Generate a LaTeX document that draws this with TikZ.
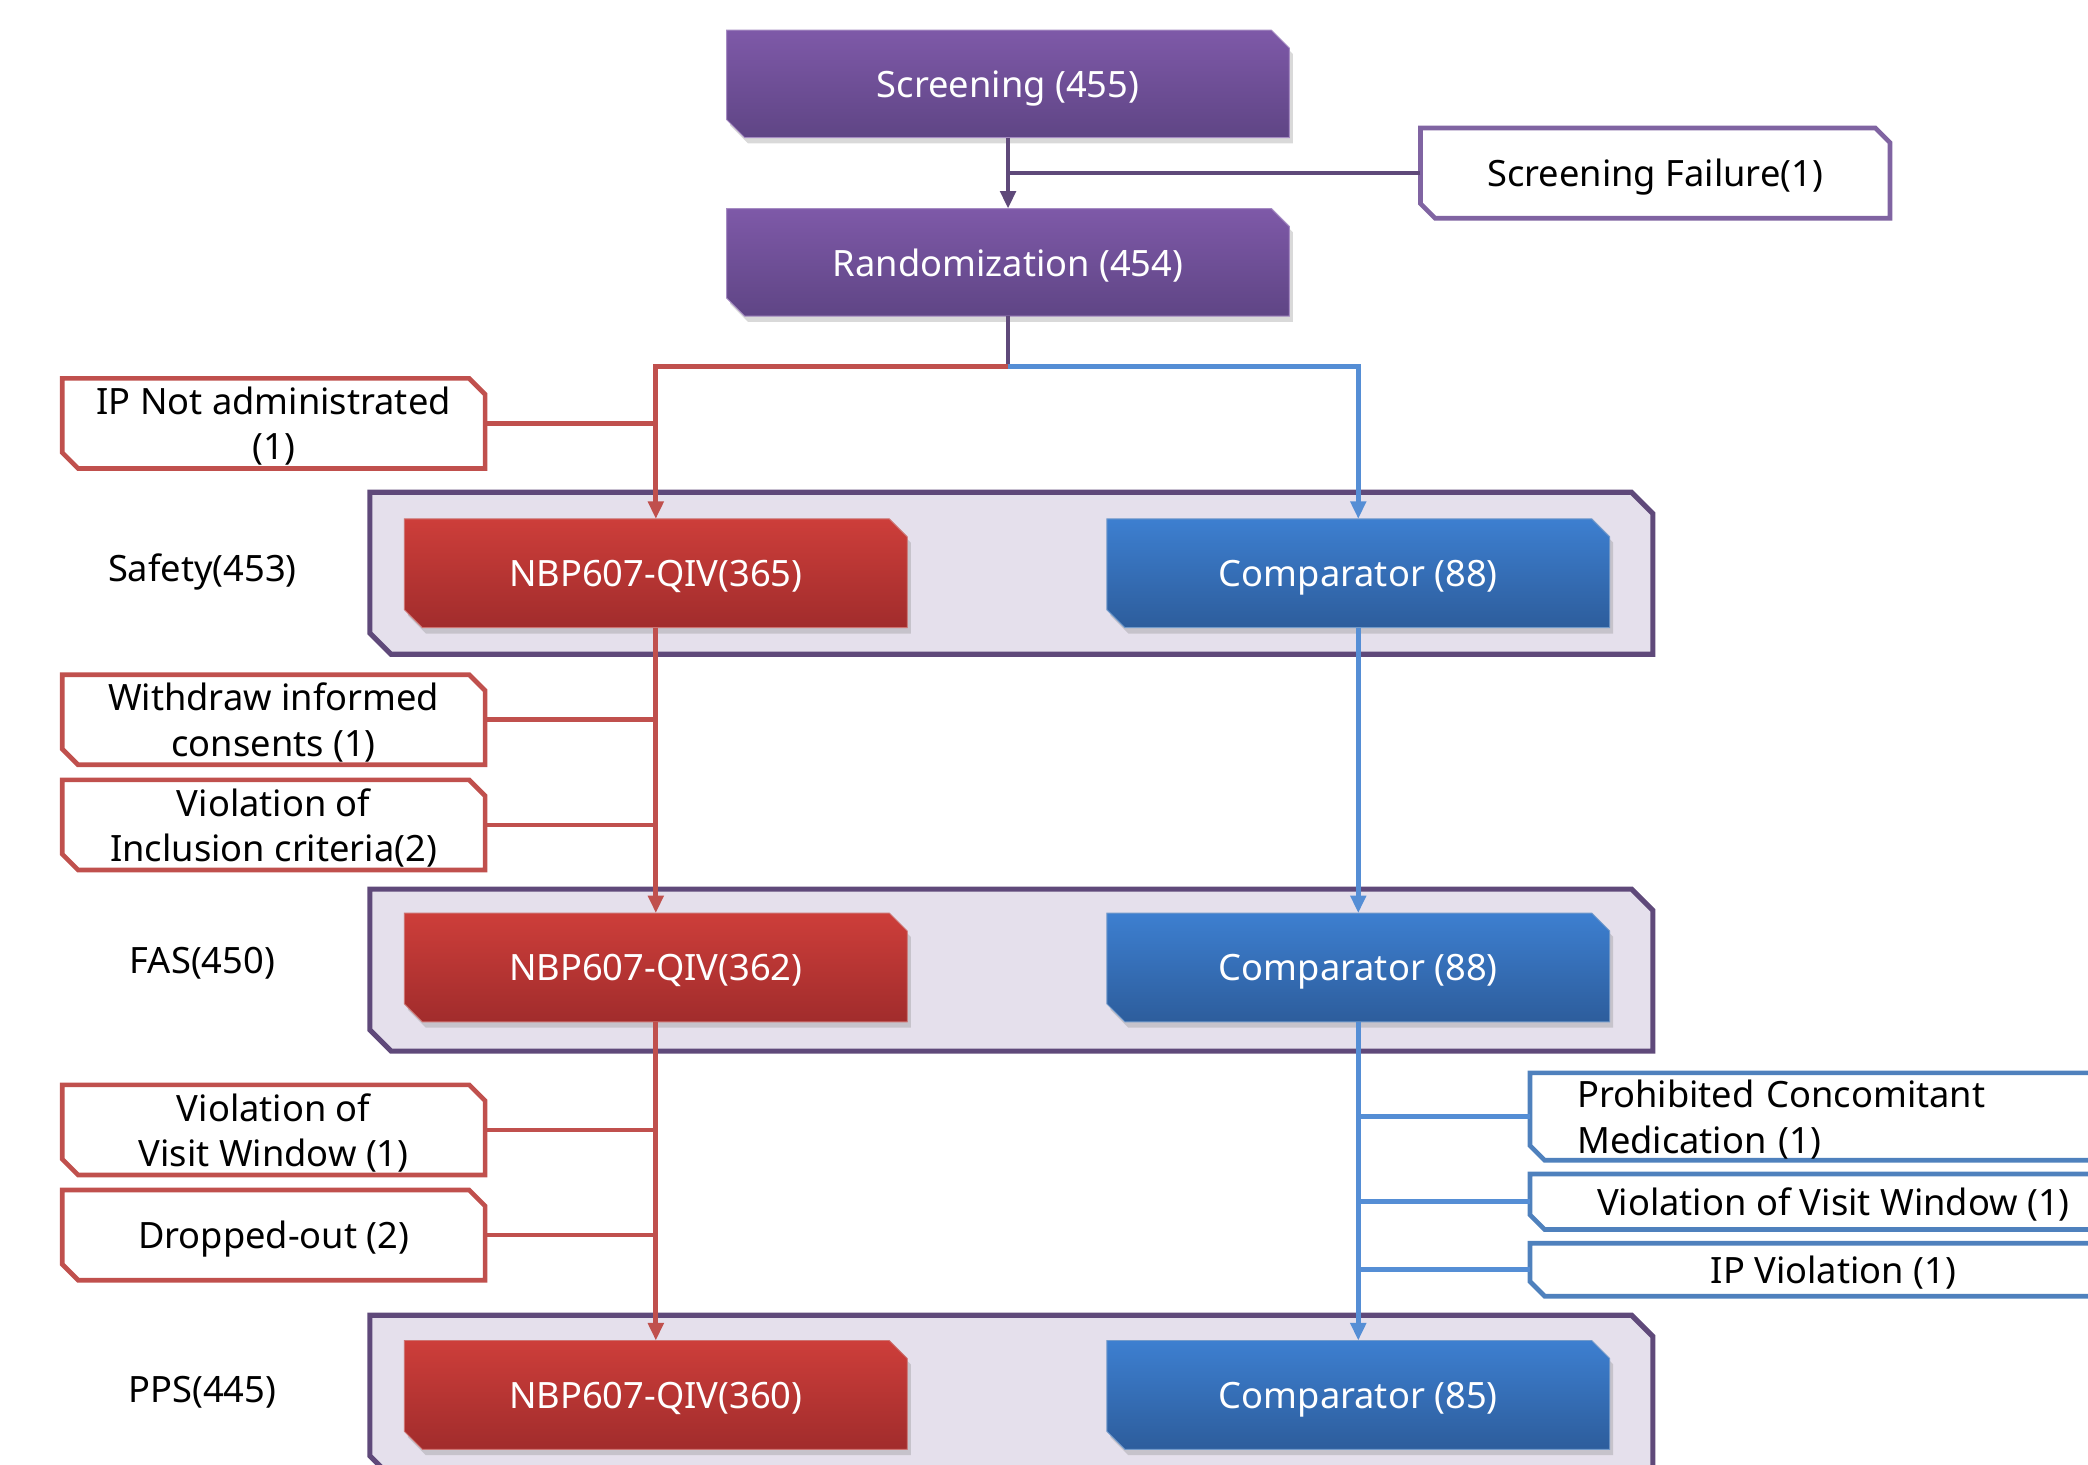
\documentclass[tikz,border=0pt]{standalone}
\usepackage{fontspec}
\setmainfont{Noto Sans}
\usetikzlibrary{shadows,arrows.meta}
\pgfdeclarelayer{bg}
\pgfsetlayers{bg,main}
\definecolor{purpleTop}{HTML}{7E59A8}
\definecolor{purpleBot}{HTML}{5F4585}
\definecolor{purpleLine}{HTML}{8064A2}
\definecolor{panelFill}{HTML}{E5E0EC}
\definecolor{panelLine}{HTML}{5F497A}
\definecolor{redTop}{HTML}{CD3E3A}
\definecolor{redBot}{HTML}{A12C2C}
\definecolor{redLine}{HTML}{C0504D}
\definecolor{blueTop}{HTML}{3D7FD0}
\definecolor{blueBot}{HTML}{2D5D9C}
\definecolor{blueLine}{HTML}{4F81BD}
\definecolor{blueLink}{HTML}{558ED5}
% box outline with two snipped corners
\newcommand\snipped[3]{\path[#3] (#1.north west) -- ([xshift=-#2]#1.north east)
 -- ([yshift=-#2]#1.north east) -- (#1.south east) -- ([xshift=#2]#1.south west)
 -- ([yshift=#2]#1.south west) -- cycle;}

\begin{document}
\begin{tikzpicture}[x=0.02cm,y=-0.02cm,
font=\fontsize{15.5}{19.4}\selectfont,
>={Triangle[length=7.5pt,width=6.5pt]},
box/.style={rectangle,inner sep=0pt,text depth=0pt},
shade/.style={drop shadow={shadow xshift=1.5pt,shadow yshift=-2.5pt,opacity=0.3}},
stage/.style={box,minimum width=8.44cm,minimum height=1.6cm,text=white},
arm/.style={box,minimum width=7.54cm,minimum height=1.62cm,text=white},
panel/.style={box,minimum width=19.26cm,minimum height=2.42cm},
reason/.style={box,minimum width=6.34cm,minimum height=1.34cm,align=center},
stageBox/.style={top color=purpleTop,bottom color=purpleBot,draw=purpleTop!70!white,line width=0.4pt,shade},
redBox/.style={top color=redTop,bottom color=redBot,draw=redLine!80!white,line width=0.4pt,shade},
blueBox/.style={top color=blueTop,bottom color=blueBot,draw=blueLine!80!white,line width=0.4pt,shade},
panelBox/.style={fill=panelFill,draw=panelLine,line width=2.2pt},
reasonBox/.style={fill=white,draw=#1,line width=2pt}]
\useasboundingbox (0,0) rectangle (1568,1100);
\clip (0,0) rectangle (1568,1100);

% analysis sets
\node[panel] (safe) at (759.5,430.5) {};
\node[panel] (fas) at (759.5,728.5) {};
\node[panel] (pps) at (759.5,1048.5) {};
\node[box] at (152,426) {Safety(453)};
\node[box] at (152,721) {FAS(450)};
\node[box] at (152,1043) {PPS(445)};

% enrolment
\node[stage] (scr) at (757,63) {Screening (455)};
\node[stage] (rand) at (757,197) {Randomization (454)};
\node[reason,minimum width=7.04cm] (fail) at (1243,130) {Screening Failure(1)};

% arms
\node[arm] (n365) at (492.5,430.5) {NBP607-QIV(365)};
\node[arm] (c88a) at (1020,430.5) {Comparator (88)};
\node[arm] (n362) at (492.5,726.5) {NBP607-QIV(362)};
\node[arm] (c88b) at (1020,726.5) {Comparator (88)};
\node[arm] (n360) at (492.5,1047.5) {NBP607-QIV(360)};
\node[arm] (c85) at (1020,1047.5) {Comparator (85)};

% exclusions
\node[reason] (ipna) at (205.5,318) {IP Not administrated\\(1)};
\node[reason] (wic) at (205.5,540.5) {Withdraw informed\\consents (1)};
\node[reason] (vic) at (205.5,619.5) {Violation of\\Inclusion criteria(2)};
\node[reason] (vvw) at (205.5,848.5) {Violation of\\Visit Window (1)};
\node[reason] (drop) at (205.5,927.5) {Dropped-out (2)};
\node[reason,anchor=west,minimum width=9.1cm,minimum height=1.3cm,
 text width=7.7cm,align=left,text depth=19.4pt] (pcm) at (1149,838.5) {Prohibited Concomitant\\Medication (1)};
\node[reason,anchor=west,minimum width=9.1cm,minimum height=0.82cm] (vvwb) at (1149,902.5) {Violation of Visit Window (1)};
\node[reason,anchor=west,minimum width=9.1cm,minimum height=0.78cm] (ipv) at (1149,953.5) {IP Violation (1)};

\begin{pgfonlayer}{bg}
\foreach \n in {safe,fas,pps} \snipped{\n}{0.32cm}{panelBox};
\foreach \n in {scr,rand} \snipped{\n}{0.27cm}{stageBox};
\foreach \n in {n365,n362,n360} \snipped{\n}{0.27cm}{redBox};
\foreach \n in {c88a,c88b,c85} \snipped{\n}{0.27cm}{blueBox};
\foreach \n in {ipna,wic,vic,vvw,drop} \snipped{\n}{0.24cm}{reasonBox=redLine};
\foreach \n in {pcm,vvwb,ipv} \snipped{\n}{0.22cm}{reasonBox=blueLine};
\snipped{fail}{0.22cm}{reasonBox=purpleLine};
\end{pgfonlayer}

\begin{scope}[line width=2pt]
\coordinate (fork) at (757,275);
\draw[panelLine,->] (scr) -- (rand);
\draw[panelLine] (fail.west) -- (fail.west -| scr.south);
\draw[panelLine] (rand.south) -- (fork);
\draw[redLine,->] (fork) -| (n365.north);
\draw[blueLink,->] (fork) -| (c88a.north);
\draw[redLine,->] (n365) -- (n362);
\draw[redLine,->] (n362) -- (n360);
\draw[blueLink,->] (c88a) -- (c88b);
\draw[blueLink,->] (c88b) -- (c85);
\foreach \r in {ipna,wic,vic,vvw,drop}
 \draw[redLine] (\r.east) -- (\r.east -| n365.south);
\foreach \r in {pcm,vvwb,ipv}
 \draw[blueLink] (\r.west) -- (\r.west -| c88b.south);
\end{scope}
\end{tikzpicture}
\end{document}
